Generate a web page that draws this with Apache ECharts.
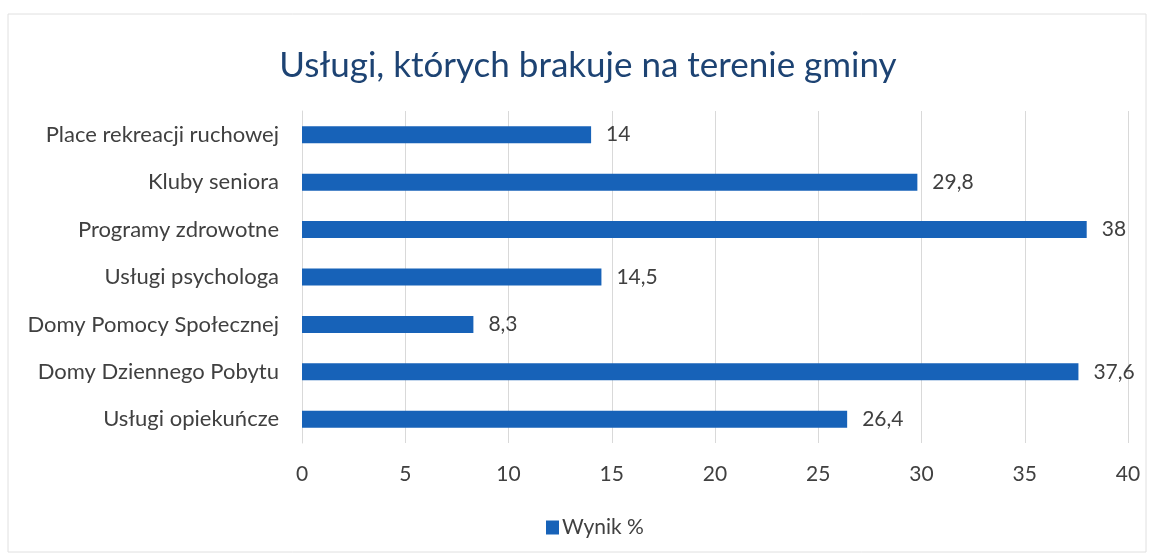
<!DOCTYPE html>
<html><head><meta charset="utf-8">
<script src="https://cdn.jsdelivr.net/npm/echarts@6/dist/echarts.min.js"></script>
<style>html,body{margin:0;padding:0;background:#fff}#c{width:1153px;height:558px}</style>
</head><body><div id="c"></div>
<script>
const title = "Usługi, których brakuje na terenie gminy";
const categories = ["Usługi opiekuńcze","Domy Dziennego Pobytu","Domy Pomocy Społecznej","Usługi psychologa","Programy zdrowotne","Kluby seniora","Place rekreacji ruchowej"];
const values = [26.4, 37.6, 8.3, 14.5, 38, 29.8, 14];
const seriesName = "Wynik %";
const axisMin = 0, axisMax = 40, axisStep = 5;

const chart = echarts.init(document.getElementById('c'));
const FONT = 'Lato';
chart.setOption({
  backgroundColor: '#fff',
  animation: false,
  title: {text: title, left: 583, textAlign: 'center', top: 43,
    textStyle: {fontFamily: FONT, fontSize: 35, fontWeight: 'normal', color: '#1d4373'}},
  graphic: [{type: 'rect', shape: {x: 8, y: 14, width: 1138, height: 538},
    style: {fill: 'none', stroke: '#e0e0e0', lineWidth: 1}}],
  legend: {data: [seriesName], bottom: 15, left: 541, itemWidth: 13, itemHeight: 14,
    icon: 'rect', itemGap: 4,
    textStyle: {fontFamily: FONT, fontSize: 21, color: '#404040', padding: [0,0,0,-2]}},
  grid: {left: 302, right: 25, top: 111, bottom: 115},
  xAxis: {type: 'value', min: axisMin, max: axisMax, interval: axisStep,
    axisLine: {show: false}, axisTick: {show: false},
    splitLine: {lineStyle: {color: '#d9d9d9', width: 1}},
    axisLabel: {fontFamily: FONT, fontSize: 21, color: '#404040', margin: 21,
      formatter: v => String(v)}},
  yAxis: {type: 'category', data: categories,
    axisLine: {show: true, lineStyle: {color: '#d9d9d9'}}, axisTick: {show: false},
    axisLabel: {fontFamily: FONT, fontSize: 22, color: '#404040', margin: 23}},
  series: [{name: seriesName, type: 'bar', data: values, barWidth: 17,
    itemStyle: {color: '#1762b8'},
    label: {show: true, position: 'right', distance: 15, fontFamily: FONT, fontSize: 21,
      color: '#404040', formatter: p => String(p.value).replace('.', ',')}}]
});
</script></body></html>
